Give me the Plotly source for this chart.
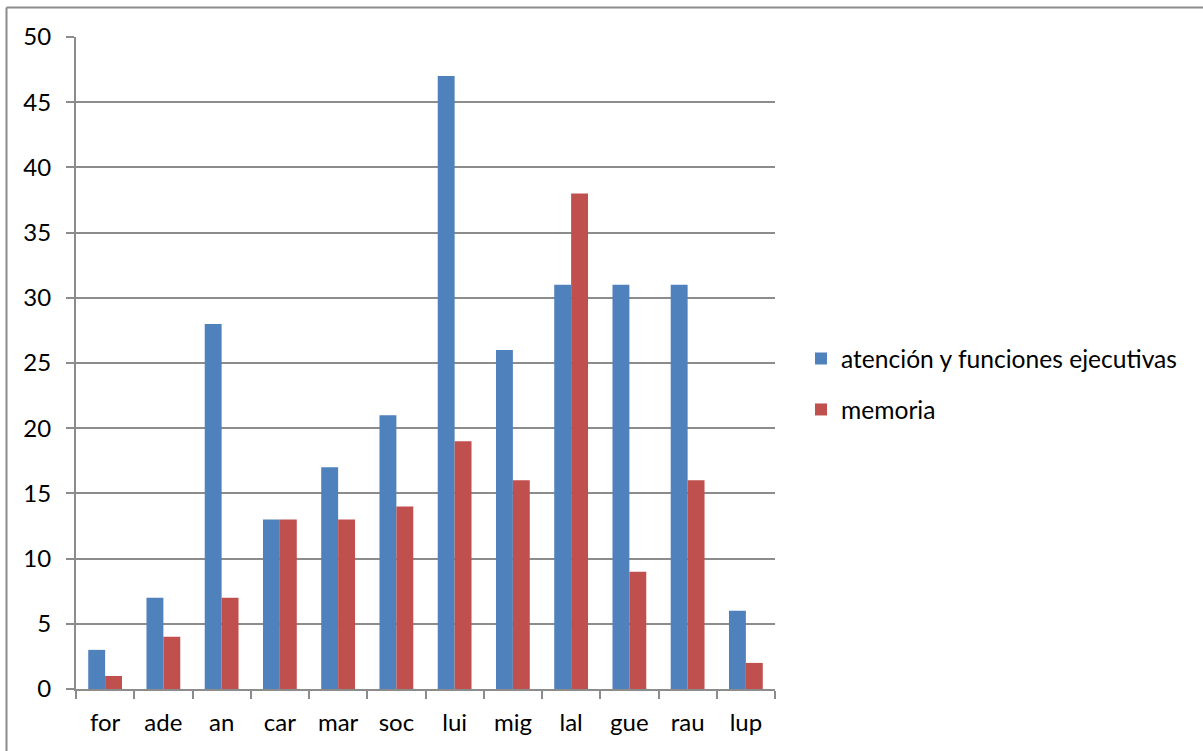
import plotly.graph_objects as go

categories = ["for", "ade", "an", "car", "mar", "soc", "lui", "mig", "lal", "gue", "rau", "lup"]
atencion = [3, 7, 28, 13, 17, 21, 47, 26, 31, 31, 31, 6]
memoria = [1, 4, 7, 13, 13, 14, 19, 16, 38, 9, 16, 2]
series_names = ["atención y funciones ejecutivas", "memoria"]
y_ticks = [0, 5, 10, 15, 20, 25, 30, 35, 40, 45, 50]

W, H = 1203, 751
L, R, T, B = 76, 428, 37, 62
pw, ph = W - L - R, H - T - B

FONT = "Lato"
FSIZE = 24
GRID = "#8c8c8c"

fig = go.Figure()
fig.add_trace(go.Bar(x=categories, y=atencion, name=series_names[0],
                     marker=dict(color="#4F81BD", line=dict(width=0)),
                     legendgroup="a"))
fig.add_trace(go.Bar(x=categories, y=memoria, name=series_names[1],
                     marker=dict(color="#C0504D", line=dict(width=0)),
                     legendgroup="b"))


def px_x(p):
    return (p - L) / pw


def px_y(p):
    return (H - B - p) / ph


# outer frame of the chart area (left and top edges)
shapes = [
    dict(type="line", xref="paper", yref="paper", x0=px_x(6.5), x1=px_x(6.5),
         y0=px_y(7.5), y1=px_y(760), line=dict(color=GRID, width=2)),
    dict(type="line", xref="paper", yref="paper", x0=px_x(6.5), x1=px_x(1210),
         y0=px_y(7.5), y1=px_y(7.5), line=dict(color=GRID, width=2)),
]

fig.update_layout(
    width=W, height=H,
    margin=dict(l=L, r=R, t=T, b=B, pad=0),
    paper_bgcolor="white", plot_bgcolor="white",
    barmode="group", bargap=0.42, bargroupgap=0,
    font=dict(family=FONT, size=FSIZE, color="#000000"),
    showlegend=True,
    legend=dict(x=px_x(801), y=px_y(336), xanchor="left", yanchor="top",
                font=dict(family=FONT, size=24.6, color="#000000"),
                traceorder="grouped", tracegroupgap=16,
                bgcolor="rgba(0,0,0,0)", itemclick=False),
    shapes=shapes,
)
fig.update_xaxes(
    type="category", showgrid=False, showline=True, linecolor=GRID, linewidth=2,
    ticks="outside", ticklen=8, tickcolor=GRID, tickwidth=2, tickson="boundaries",
    ticklabelstandoff=11, tickfont=dict(family=FONT, size=FSIZE),
)
fig.update_yaxes(
    range=[0, 50], tickvals=y_ticks, showgrid=True, gridcolor=GRID, gridwidth=2,
    showline=True, linecolor=GRID, linewidth=2, zeroline=False,
    ticks="outside", ticklen=8, tickcolor=GRID, tickwidth=2,
    ticklabelstandoff=10, tickfont=dict(family=FONT, size=FSIZE),
)

fig.write_html("out.html")
